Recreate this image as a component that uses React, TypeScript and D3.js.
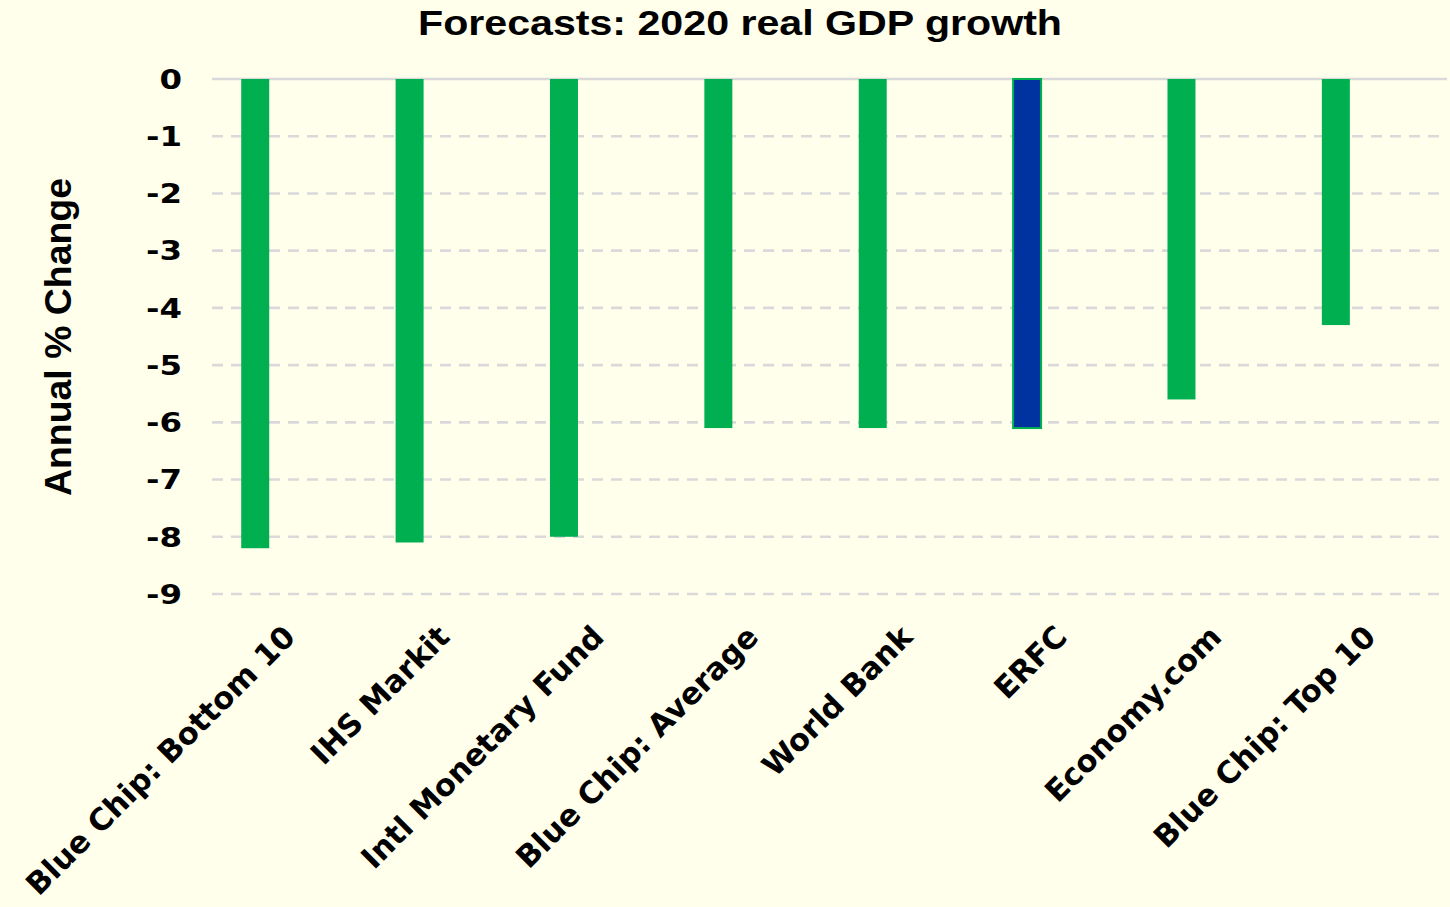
import React from "react";
import * as d3 from "d3";

const categories = [
  "Blue Chip: Bottom 10",
  "IHS Markit",
  "Intl Monetary Fund",
  "Blue Chip: Average",
  "World Bank",
  "ERFC",
  "Economy.com",
  "Blue Chip: Top 10",
];
const values = [-8.2, -8.1, -8.0, -6.1, -6.1, -6.1, -5.6, -4.3];
const highlighted = ["ERFC"];
const yTicks = [0, -1, -2, -3, -4, -5, -6, -7, -8, -9];
const title = "Forecasts: 2020 real GDP growth";
const yTitle = "Annual % Change";

const W = 1450;
const H = 907;
const BG = "#FFFFEC";
const GREEN = "#00B050";
const BLUE = "#0033A0";
const GRID = "#D9D9D9";

export default function App() {
  const x = d3.scaleBand<string>().domain(categories).range([212, 1447]);
  const y = d3.scaleLinear().domain([-9, 0]).range([594, 79]);
  const bw = x.bandwidth();
  const barW = 28;
  const barShift = -0.22 * bw;

  return (
    <div style={{ position: "fixed", left: 0, top: 0, width: W, height: H }}>
      <svg width={W} height={H} style={{ display: "block" }}>
        <rect x={0} y={0} width={W} height={H} fill={BG} />
        <text
          x={740}
          y={35}
          textAnchor="middle"
          fontFamily="'Liberation Sans', Arial, sans-serif"
          fontWeight="bold"
          fontSize={35}
          textLength={644}
          lengthAdjust="spacingAndGlyphs"
          fill="#000"
        >
          {title}
        </text>
        {yTicks.map((t) => (
          <line
            key={"g" + t}
            x1={212}
            x2={1447}
            y1={y(t)}
            y2={y(t)}
            stroke={GRID}
            strokeWidth={2.6}
            strokeDasharray={t === 0 ? undefined : "11 8"}
          />
        ))}
        {yTicks.map((t) => (
          <g key={"t" + t} transform={`translate(182,${y(t)}) scale(1.2,1)`}>
            <text
              x={0}
              y={0}
              dy="0.36em"
              textAnchor="end"
              fontFamily="'DejaVu Sans', Verdana, sans-serif"
              fontWeight="bold"
              fontSize={27}
              fill="#000"
            >
              {t === 0 ? "0" : "-" + Math.abs(t)}
            </text>
          </g>
        ))}
        {categories.map((c, i) => {
          const v = values[i];
          const cx = (x(c) as number) + bw / 2 + barShift;
          const hl = highlighted.includes(c);
          return (
            <rect
              key={"b" + c}
              x={cx - barW / 2}
              y={y(0)}
              width={barW}
              height={y(v) - y(0)}
              fill={hl ? BLUE : GREEN}
              stroke={hl ? GREEN : "none"}
              strokeWidth={hl ? 2 : 0}
            />
          );
        })}
        {categories.map((c) => {
          const cx = (x(c) as number) + bw / 2;
          return (
            <g key={"l" + c} transform={`translate(${cx},631) rotate(-45)`}>
              <text
                x={0}
                y={0}
                dy="0.36em"
                textAnchor="end"
                fontFamily="'DejaVu Sans', Verdana, sans-serif"
                fontWeight="bold"
                fontSize={30.5}
                fill="#000"
              >
                {c}
              </text>
            </g>
          );
        })}
        <g transform="translate(71,337) rotate(-90)">
          <text
            x={0}
            y={0}
            textAnchor="middle"
            fontFamily="'Liberation Sans', Arial, sans-serif"
            fontWeight="bold"
            fontSize={36}
            textLength={318}
            lengthAdjust="spacingAndGlyphs"
            fill="#000"
          >
            {yTitle}
          </text>
        </g>
      </svg>
    </div>
  );
}
